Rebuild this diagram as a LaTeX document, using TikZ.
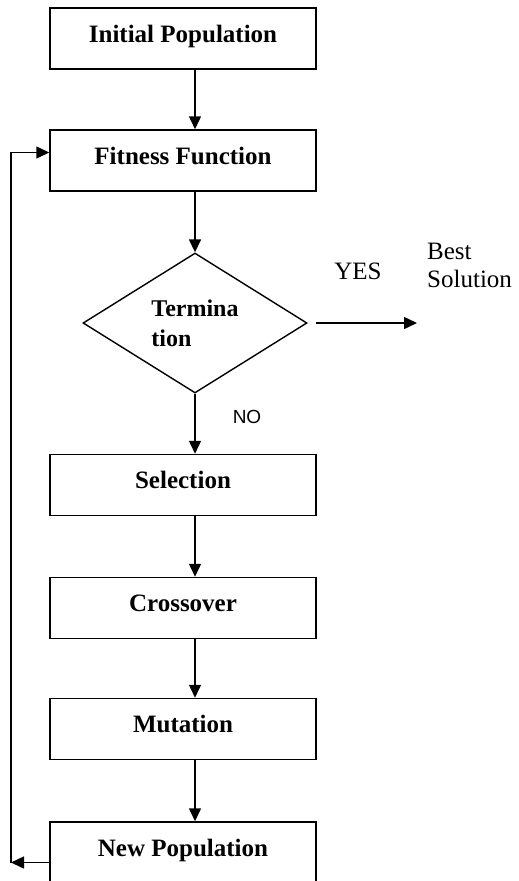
\documentclass[tikz,border=0pt]{standalone}
\usepackage{fontspec}
\setmainfont{Liberation Serif}
\newfontfamily\nofont{Liberation Sans}
\usetikzlibrary{shapes.geometric,arrows.meta}
\begin{document}
\begin{tikzpicture}[
        x=1pt, y=-1pt,
        rect/.style={rectangle, draw, line width=1.5pt, minimum width=266pt, minimum height=61pt, inner sep=0pt, text height=17pt, text depth=10pt, font=\fontsize{25}{30}\selectfont\bfseries},
        decision/.style={diamond, draw, line width=1.4pt, minimum width=224pt, minimum height=140pt, inner sep=0pt},
        flow/.style={-{Triangle[length=13pt,width=12pt]}, line width=1.5pt},
        plain/.style={inner sep=0pt, font=\fontsize{25}{28}\selectfont}
    ]
    \useasboundingbox (0,0) rectangle (519,881);
    \node[rect] (init) at (183,38.5) {Initial Population};
    \node[rect] (fit) at (183,160.5) {Fitness Function};
    \node[decision] (term) at (195,323) {};
    \node[inner sep=0pt, align=left, font=\fontsize{24}{30}\selectfont\bfseries] (termtext) at (term) {Termina\\tion};
    \node[rect] (sel) at (183,485) {Selection};
    \node[rect] (cross) at (183,608) {Crossover};
    \node[rect] (mut) at (183,729) {Mutation};
    \node[rect] (newpop) at (183,852.5) {New Population};
    % labels of the decision
    \node[plain] (yes) at (358,271) {YES};
    \node[plain, align=left, anchor=west] (best) at (427,265) {Best\\Solution};
    \node[inner sep=0pt, font=\fontsize{19}{22}\nofont] (no) at (247,416.5) {NO};
    \coordinate (yesend) at (417,323);
    \coordinate (loopbot) at (11,862.5);
    % main flow
    \draw[flow] (init.south -| term.north) -- (fit.north -| term.north);
    \draw[flow] (fit.south -| term.north) -- (term.north);
    \draw[flow] (term.south) -- (sel.north -| term.south);
    \draw[flow] (sel.south -| term.south) -- (cross.north -| term.south);
    \draw[flow] (cross.south -| term.south) -- (mut.north -| term.south);
    \draw[flow] (mut.south -| term.south) -- (newpop.north -| term.south);
    \draw[flow] ([xshift=8pt]term.east) -- (yesend);
    % loop back
    \draw[flow] ([yshift=-10pt]newpop.west) -- (loopbot);
    \draw[flow] (loopbot) |- ([yshift=8pt]fit.west);
\end{tikzpicture}
\end{document}
